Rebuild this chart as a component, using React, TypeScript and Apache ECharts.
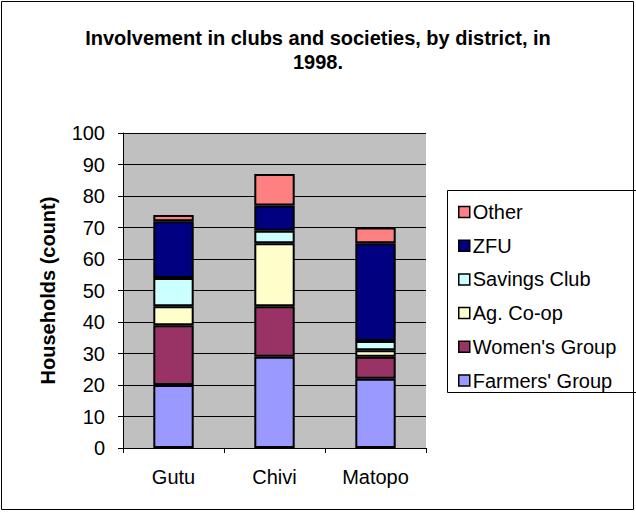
import React, { useEffect, useRef } from "react";
import * as echarts from "echarts";

const districts = ["Gutu", "Chivi", "Matopo"];
const farmersGroup = [20, 29, 22];
const womensGroup = [19, 16, 7];
const agCoop = [6, 20, 2];
const savingsClub = [9, 4, 3];
const zfu = [18, 8, 31];
const other = [2, 10, 5];

const seriesDefs = [
  { name: "Farmers' Group", data: farmersGroup, color: "#9999FF" },
  { name: "Women's Group", data: womensGroup, color: "#993366" },
  { name: "Ag. Co-op", data: agCoop, color: "#FFFFCC" },
  { name: "Savings Club", data: savingsClub, color: "#CCFFFF" },
  { name: "ZFU", data: zfu, color: "#000080" },
  { name: "Other", data: other, color: "#FF8080" },
];

const FONT = "'Liberation Sans', Arial, sans-serif";
const TITLE = "Involvement in clubs and societies, by district, in\n1998.";

export default function App() {
  const ref = useRef<HTMLDivElement>(null);
  useEffect(() => {
    if (!ref.current) return;
    const chart = echarts.init(ref.current, undefined, { renderer: "svg" });
    chart.setOption({
      animation: false,
      backgroundColor: "#FFFFFF",
      textStyle: { fontFamily: FONT },
      grid: {
        left: 123,
        right: 210,
        top: 133,
        bottom: 64,
        show: true,
        backgroundColor: "#C0C0C0",
        borderWidth: 0,
      },
      legend: {
        orient: "vertical",
        left: 453,
        top: 196,
        icon: "rect",
        itemWidth: 11,
        itemHeight: 11,
        itemGap: 11.7,
        itemStyle: { borderColor: "#000", borderWidth: 1.5 },
        textStyle: { fontFamily: FONT, fontSize: 20, color: "#000", lineHeight: 22, padding: [0, 0, 0, -2] },
        data: seriesDefs.map((s) => s.name).reverse(),
      },
      graphic: [
        {
          type: "rect",
          shape: { x: 1.5, y: 1.5, width: 632, height: 508 },
          style: { fill: "none", stroke: "#000", lineWidth: 1 },
          silent: true,
        },
        {
          type: "rect",
          shape: { x: 447.5, y: 190.5, width: 190, height: 202 },
          style: { fill: "#FFFFFF", stroke: "#000", lineWidth: 1 },
          silent: true,
          z: -1,
        },
        {
          type: "text",
          x: 318,
          y: 26,
          style: {
            text: TITLE,
            fill: "#000",
            font: "bold 20px 'Liberation Sans', Arial, sans-serif",
            align: "center",
            verticalAlign: "top",
            lineHeight: 24,
          },
          silent: true,
        },
      ],
      xAxis: {
        type: "category",
        data: districts,
        axisLine: { lineStyle: { color: "#000", width: 1 } },
        axisTick: { show: true, length: 5, lineStyle: { color: "#000" } },
        axisLabel: { fontFamily: FONT, fontSize: 20, color: "#000", margin: 19 },
      },
      yAxis: {
        type: "value",
        min: 0,
        max: 100,
        interval: 10,
        name: "Households (count)",
        nameLocation: "middle",
        nameGap: 65,
        nameTextStyle: { fontFamily: FONT, fontSize: 20, fontWeight: "bold", color: "#000" },
        axisLine: { show: true, lineStyle: { color: "#000", width: 1 } },
        axisTick: { show: true, length: 5, lineStyle: { color: "#000" } },
        axisLabel: { fontFamily: FONT, fontSize: 20, color: "#000", margin: 18 },
        splitLine: { show: true, lineStyle: { color: "#000", width: 1 } },
      },
      series: seriesDefs.map((s) => ({
        name: s.name,
        type: "bar",
        stack: "total",
        barWidth: "40%",
        data: s.data,
        itemStyle: { color: s.color, borderColor: "#000", borderWidth: 2 },
      })),
    });
    return () => chart.dispose();
  }, []);
  return (
    <div
      ref={ref}
      style={{ position: "fixed", left: 0, top: 0, width: 636, height: 512 }}
    />
  );
}
